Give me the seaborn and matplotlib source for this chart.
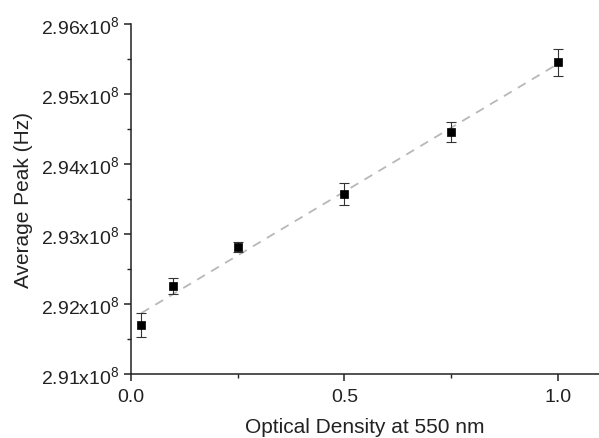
import numpy as np
import pandas as pd
import matplotlib
matplotlib.use("Agg")
import matplotlib.pyplot as plt
import seaborn as sns
from matplotlib.ticker import FixedLocator, FuncFormatter, MultipleLocator

# data
od = [0.025, 0.1, 0.25, 0.5, 0.75, 1.0]
peak = [2.91704e8, 2.92257e8, 2.92814e8, 2.93571e8, 2.94461e8, 2.95453e8]
err = [0.00170e8, 0.00120e8, 0.00075e8, 0.00160e8, 0.00140e8, 0.00190e8]
yticks = [2.91e8, 2.92e8, 2.93e8, 2.94e8, 2.95e8, 2.96e8]
xticks = [0.0, 0.5, 1.0]

sns.set_theme(style="ticks")
plt.rcParams['font.family'] = ['Liberation Sans', 'DejaVu Sans']
plt.rcParams['mathtext.fontset'] = 'custom'
plt.rcParams['mathtext.rm'] = 'Liberation Sans'
plt.rcParams['mathtext.it'] = 'Liberation Sans'

df = pd.DataFrame({"od": od, "peak": peak, "err": err})

fig = plt.figure(figsize=(5.99, 4.39), dpi=100)
ax = fig.add_axes([0.2182, 0.1458, 0.7818, 0.7973])

sns.regplot(data=df, x="od", y="peak", ax=ax, scatter=False, ci=None, truncate=True,
            line_kws=dict(color="#b8b8b8", lw=1.3, ls=(0, (5, 4))))
ax.errorbar(df["od"], df["peak"], yerr=df["err"], fmt="none", ecolor="#333333",
            elinewidth=0.8, capsize=3.5, capthick=0.8, zorder=3)
sns.scatterplot(data=df, x="od", y="peak", ax=ax, marker="s", s=40, color="black",
                edgecolor="black", linewidth=0.5, zorder=4)

ax.set_xlim(0, 1.096)
ax.set_ylim(2.91e8, 2.96e8)
ax.xaxis.set_major_locator(FixedLocator(xticks))
ax.xaxis.set_minor_locator(MultipleLocator(0.25))
ax.yaxis.set_major_locator(FixedLocator(yticks))
ax.yaxis.set_minor_locator(MultipleLocator(0.005e8))
ax.xaxis.set_major_formatter(FuncFormatter(lambda v, p: f"{v:.1f}"))
ax.yaxis.set_major_formatter(FuncFormatter(lambda v, p: f"{v/1e8:.2f}x10$^{{8}}$"))

for s in ["top", "right"]:
    ax.spines[s].set_visible(False)
for s in ["left", "bottom"]:
    ax.spines[s].set_color("#222222")
    ax.spines[s].set_linewidth(1.1)

ax.tick_params(axis="both", which="major", direction="out", length=5, width=1.1,
               color="#222222", labelsize=14, labelcolor="#222222", pad=3)
ax.tick_params(axis="x", which="major", pad=5)
ax.tick_params(axis="both", which="minor", direction="out", length=3, width=1.0,
               color="#222222")

ax.set_xlabel("Optical Density at 550 nm", fontsize=15, color="#222222", labelpad=9)
ax.set_ylabel("Average Peak (Hz)", fontsize=15, color="#222222", labelpad=6)

fig.savefig("out.png", dpi=100)
